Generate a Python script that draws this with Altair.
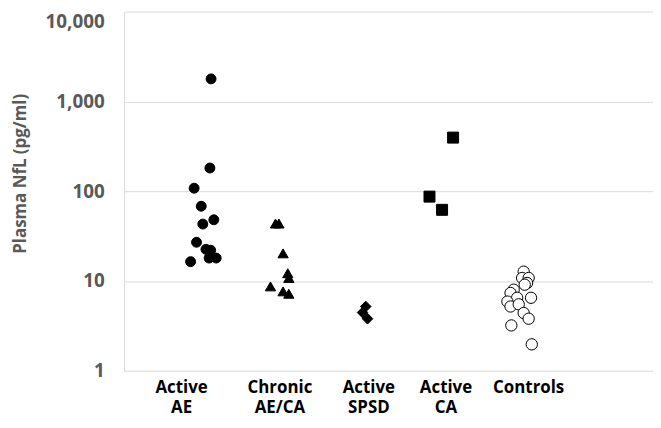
import altair as alt
import pandas as pd

# Categories (group index 1..5)
categories = ["Active AE", "Chronic AE/CA", "Active SPSD", "Active CA", "Controls"]
label_lines = [["Active", "AE"], ["Chronic", "AE/CA"], ["Active", "SPSD"], ["Active", "CA"], ["Controls"]]
label_pos = [0.73, 1.98, 3.11, 4.09, 5.14]

# Plasma NfL values (pg/ml) and horizontal jitter per group
ae_vals = [1780, 181, 108, 68, 48, 43, 27, 22.5, 22, 18, 18, 16.4]
ae_jit = [0.105, 0.09, -0.11, -0.02, 0.14, 0.0, -0.08, 0.04, 0.10, 0.08, 0.17, -0.155]

chronic_vals = [43.6, 43.6, 20.3, 12.2, 10.8, 8.7, 7.66, 7.2]
chronic_jit = [-0.076, -0.033, 0.02, 0.08, 0.093, -0.14, 0.02, 0.093]

spsd_vals = [5.2, 4.45, 3.8]
spsd_jit = [0.07, 0.03, 0.093]

ca_vals = [395, 87, 62]
ca_jit = [0.18, -0.12, 0.04]

ctrl_vals = [12.7, 10.8, 10.8, 9.5, 9.1, 8.0, 7.35, 6.5, 6.5, 5.9, 5.2, 5.5, 4.4, 3.8, 3.2, 1.97]
ctrl_jit = [0.077, 0.057, 0.14, 0.12, 0.09, -0.05, -0.09, -0.006, 0.17, -0.13, -0.09, 0.014, 0.077, 0.14, -0.08, 0.18]

groups = [(ae_vals, ae_jit), (chronic_vals, chronic_jit), (spsd_vals, spsd_jit),
          (ca_vals, ca_jit), (ctrl_vals, ctrl_jit)]

rows = []
for gi, (vals, jits) in enumerate(groups):
    for v, j in zip(vals, jits):
        rows.append({"group": categories[gi], "x": gi + 1 + j, "nfl": v})
df = pd.DataFrame(rows)

labels_df = pd.DataFrame({"x": label_pos, "label": label_lines})

FONT = "Open Sans"

xscale = alt.Scale(domain=[0, 6.72], nice=False, zero=False)
yscale = alt.Scale(type="log", domain=[1, 10000], nice=False)

points = alt.Chart(df).mark_point(filled=False, stroke="black", strokeWidth=1, opacity=1).encode(
    x=alt.X("x:Q", scale=xscale, axis=None),
    y=alt.Y("nfl:Q", scale=yscale, axis=alt.Axis(
        values=[1, 10, 100, 1000, 10000], format=",", grid=True, gridColor="#d9d9d9",
        ticks=False, domain=True, domainColor="#d9d9d9",
        labelFont=FONT, labelFontWeight="bold", labelFontSize=19, labelColor="#595959",
        labelPadding=20,
        labelOffset={"condition": {"test": "datum.value == 10000", "value": 10}, "value": 0},
        title="Plasma NfL (pg/ml)", titleFont=FONT, titleFontWeight="bold", titleFontSize=17,
        titleColor="#595959", titleX=-104, titleY=163, titleBaseline="middle", titleAlign="center")),
    shape=alt.Shape("group:N", scale=alt.Scale(domain=categories,
                    range=["circle", "triangle-up", "diamond", "square", "circle"]), legend=None),
    fill=alt.Fill("group:N", scale=alt.Scale(domain=categories,
                  range=["black", "black", "black", "black", "white"]), legend=None),
    size=alt.Size("group:N", scale=alt.Scale(domain=categories, range=[100, 130, 110, 121, 85]), legend=None),
)

texts = alt.Chart(labels_df).mark_text(
    font=FONT, fontWeight="bold", fontSize=17, color="black",
    baseline="top", align="center", lineHeight=21
).encode(
    x=alt.X("x:Q", scale=xscale),
    y=alt.value(371),
    text="label",
)

chart = alt.layer(points, texts).properties(
    width=533, height=362,
    autosize=alt.AutoSizeParams(type="none"),
    padding={"left": 117, "top": 2, "right": 0, "bottom": 48},
).configure_view(stroke=None)

chart.save("out.html", embed_options={"renderer": "svg", "actions": False})
